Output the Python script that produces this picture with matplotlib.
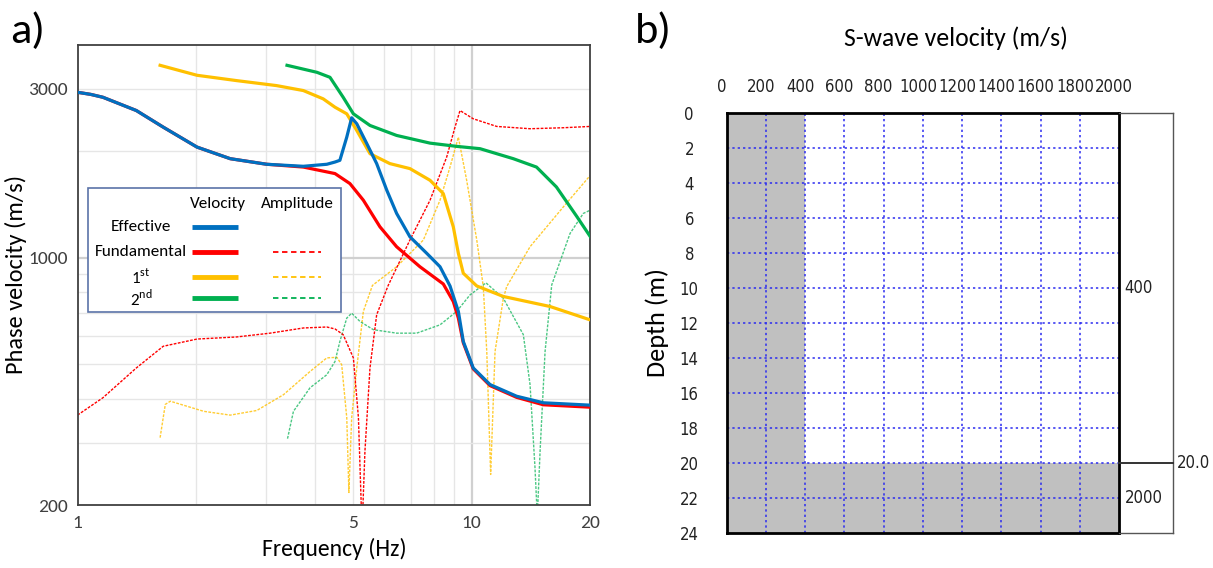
import matplotlib
matplotlib.use("Agg")
import matplotlib.pyplot as plt
import matplotlib.transforms as mtransforms
from matplotlib import font_manager
from matplotlib.font_manager import FontProperties

# ---- data: panel a (frequency in Hz, phase velocity in m/s) ----
freq_eff = [1.0, 1.08, 1.16, 1.41, 1.65, 2.01, 2.44, 3.02, 3.74, 4.29, 4.50, 4.63, 4.82,
            4.96, 5.11, 5.42, 5.74, 6.09, 6.45, 6.97, 7.69, 8.31, 8.81, 9.25, 9.52,
            10.09, 11.13, 13.0, 15.2, 20.0]
vel_eff = [2935, 2895, 2841, 2606, 2339, 2054, 1905, 1837, 1813, 1837, 1864, 1885, 2192,
           2486, 2391, 2100, 1845, 1551, 1334, 1146, 1029, 943, 832, 705, 580,
           488, 438, 406, 389, 383]

freq_fund = [1.0, 1.08, 1.16, 1.41, 1.65, 2.01, 2.44, 3.02, 3.74, 4.50, 4.91, 5.31, 5.85,
             6.45, 7.39, 8.47, 8.98, 9.25, 9.52, 10.09, 11.13, 13.0, 15.2, 20.0]
vel_fund = [2935, 2895, 2841, 2606, 2339, 2054, 1905, 1837, 1804, 1729, 1620, 1454, 1223,
            1074, 943, 843, 752, 675, 575, 485, 435, 403, 384, 378]

freq_1st = [1.62, 2.01, 2.53, 3.20, 3.74, 4.20, 4.50, 4.82, 5.11, 5.52, 6.20, 6.97,
            7.84, 8.47, 8.98, 9.25, 9.52, 10.3, 12.03, 15.8, 20.0]
vel_1st = [3498, 3278, 3167, 3065, 2968, 2812, 2663, 2551, 2289, 1968, 1845, 1786,
           1655, 1518, 1223, 1029, 904, 832, 777, 728, 667]

freq_2nd = [3.40, 4.05, 4.37, 4.72, 5.01, 5.52, 6.45, 7.84, 9.16, 10.5, 12.75, 14.6,
            16.4, 18.5, 20.0]
vel_2nd = [3498, 3342, 3235, 2841, 2551, 2365, 2216, 2108, 2064, 2033, 1905, 1804,
           1585, 1305, 1146]

amp_freq_fund = [1.0, 1.16, 1.41, 1.65, 2.01, 2.53, 3.08, 3.74, 4.29, 4.50, 4.72,
                 5.01, 5.16, 5.27, 5.36, 5.52, 5.74, 6.14, 6.97, 7.84, 8.64, 9.07,
                 9.34, 10.09, 11.57, 14.06, 17.08, 20.0]
amp_fund = [359, 402, 488, 562, 589, 597, 612, 633, 637, 629, 606,
            521, 353, 170, 284, 488, 690, 835, 1122, 1454, 1925, 2339,
            2606, 2470, 2350, 2315, 2330, 2350]

amp_freq_1st = [1.62, 1.67, 1.72, 2.09, 2.44, 2.85, 3.33, 3.89, 4.29, 4.55, 4.68,
                4.82, 4.88, 4.96, 5.11, 5.31, 5.6, 6.45, 7.54, 8.31, 8.81, 9.25,
                9.71, 10.3, 10.70, 10.92, 11.17, 11.46, 12.03, 12.27, 14.06, 17.08, 20.0]
amp_1st = [310, 385, 393, 368, 359, 370, 410, 477, 521, 523, 498,
           353, 217, 353, 488, 705, 835, 943, 1122, 1454, 1804, 2192,
           1655, 1122, 829, 543, 244, 543, 768, 829, 1074, 1392, 1710]

amp_freq_2nd = [3.41, 3.53, 3.89, 4.29, 4.50, 4.63, 4.82, 4.96, 5.21, 5.63, 6.45,
                7.25, 8.31, 9.16, 9.90, 10.87, 12.03, 13.52, 14.06, 14.47, 14.67,
                14.91, 15.35, 15.96, 17.76, 19.19, 20.0]
amp_2nd = [308, 368, 429, 467, 509, 580, 675, 697, 660, 626, 612,
           612, 646, 705, 785, 849, 768, 606, 438, 256, 185,
           284, 543, 838, 1171, 1334, 1363]

freq_ticks = [1, 5, 10, 20]
vel_ticks = [200, 1000, 3000]
freq_grid = [2, 3, 4, 5, 6, 7, 8, 9]
vel_grid = [300, 400, 500, 600, 700, 800, 900, 2000, 3000]

# ---- data: panel b (layered model) ----
layer_top = [0, 20]
layer_bottom = [20, 24]
layer_vs = [400, 2000]
vs_ticks = list(range(0, 2001, 200))
depth_ticks = list(range(0, 25, 2))

# ---- fonts ----
installed = {f.name for f in font_manager.fontManager.ttflist}
label_font = "Carlito" if "Carlito" in installed else "Lato"


def narrow_font_file():
    fonts = font_manager.fontManager.ttflist
    regular = (400, "normal", "regular", "book")
    for f in fonts:
        if f.name == "Liberation Sans Narrow" and f.style == "normal" and f.weight in regular:
            return f.fname
    for f in fonts:
        if f.name == "DejaVu Sans" and f.stretch == "condensed" and f.style == "normal" \
                and f.weight in regular:
            return f.fname
    return None


nf = narrow_font_file()
if nf:
    narrow = FontProperties(fname=nf, size=12)
else:
    narrow = FontProperties(family="Liberation Sans", size=10.5)

plt.rcParams["font.family"] = [label_font, "DejaVu Sans"]
plt.rcParams["mathtext.fontset"] = "custom"
plt.rcParams["mathtext.rm"] = label_font

BLUE, RED, YELLOW, GREEN = "#0070C0", "#FF0000", "#FFC000", "#00B050"

fig = plt.figure(figsize=(12.13, 5.68), dpi=100)

# ================= panel a =================
ax = fig.add_axes([0.0639, 0.1109, 0.4228, 0.8104])
ax.set_xscale("log")
ax.set_yscale("log")
ax.set_xlim(1, 20)
ax.set_ylim(200, 4000)

for f in freq_grid:
    ax.axvline(f, color="#e6e6e6", lw=1.0, zorder=0)
ax.axvline(10, color="#d0d0d0", lw=1.6, zorder=0)
for v in vel_grid:
    ax.axhline(v, color="#e6e6e6", lw=1.0, zorder=0)
ax.axhline(1000, color="#d0d0d0", lw=1.6, zorder=0)

dot = (0, (2, 1))
ax.plot(amp_freq_1st, amp_1st, color=YELLOW, lw=1.0, ls=dot, alpha=0.8, zorder=2)
ax.plot(amp_freq_2nd, amp_2nd, color=GREEN, lw=1.0, ls=dot, alpha=0.7, zorder=2)
ax.plot(amp_freq_fund, amp_fund, color=RED, lw=1.0, ls=dot, zorder=2)

ax.plot(freq_1st, vel_1st, color=YELLOW, lw=2.3, zorder=3)
ax.plot(freq_2nd, vel_2nd, color=GREEN, lw=2.3, zorder=3)
ax.plot(freq_fund, vel_fund, color=RED, lw=2.3, zorder=4)
ax.plot(freq_eff, vel_eff, color=BLUE, lw=2.3, zorder=5)

ax.xaxis.set_minor_locator(matplotlib.ticker.NullLocator())
ax.yaxis.set_minor_locator(matplotlib.ticker.NullLocator())
ax.set_xticks(freq_ticks)
ax.set_xticklabels([str(t) for t in freq_ticks])
ax.set_yticks(vel_ticks)
ax.set_yticklabels([str(t) for t in vel_ticks])
ax.tick_params(length=0, labelsize=14, labelcolor="#404040", pad=7)
for s in ax.spines.values():
    s.set_color("#404040")
    s.set_linewidth(1.3)
ax.set_xlabel("Frequency (Hz)", fontsize=17, labelpad=5)
ax.set_ylabel("Phase velocity (m/s)", fontsize=17.5, labelpad=1)

# legend box drawn as a small table
ax.add_patch(plt.Rectangle((0.0205, 0.4193), 0.4932, 0.2694, transform=ax.transAxes,
                           facecolor="white", edgecolor="#5b73a8", lw=1.2, zorder=6))
lg = dict(transform=ax.transAxes, fontsize=12.3, ha="center", va="center", zorder=7)
ax.text(0.2739, 0.655, "Velocity", **lg)
ax.text(0.428, 0.655, "Amplitude", **lg)
rows = [("Effective", BLUE, False, 0.6046),
        ("Fundamental", RED, True, 0.5503),
        (r"1$^{\mathrm{st}}$", YELLOW, True, 0.496),
        (r"2$^{\mathrm{nd}}$", GREEN, True, 0.449)]
for name, col, has_amp, yy in rows:
    ax.text(0.1238, yy, name, **lg)
    ax.plot([0.2227, 0.3135], [yy, yy], color=col, lw=3.5, transform=ax.transAxes,
            zorder=7, solid_capstyle="butt")
    if has_amp:
        ax.plot([0.3818, 0.4742], [yy, yy], color=col, lw=1.3, ls=(0, (3, 2)),
                transform=ax.transAxes, zorder=7)

fig.text(0.008, 0.925, "a)", fontsize=32, va="baseline", ha="left")

# ================= panel b =================
bx = fig.add_axes([0.5991, 0.0621, 0.3234, 0.7395])
bx.set_xlim(0, 2000)
bx.set_ylim(24, 0)
for top, bot, vs in zip(layer_top, layer_bottom, layer_vs):
    bx.fill_betweenx([top, bot], 0, vs, color="#c0c0c0", lw=0, zorder=1)
for v in vs_ticks[1:-1]:
    bx.axvline(v, color="#2b2bf0", lw=1.1, ls=(0, (1.5, 2)), zorder=2)
for d in depth_ticks[1:-1]:
    bx.axhline(d, color="#2b2bf0", lw=1.1, ls=(0, (1.5, 2)), zorder=2)

bx.xaxis.tick_top()
bx.xaxis.set_label_position("top")
bx.set_xticks(vs_ticks)
bx.set_yticks(depth_ticks)
bx.tick_params(length=0, labelcolor="#222222")
bx.tick_params(axis="x", pad=12)
bx.tick_params(axis="y", pad=27)
for lab in bx.get_xticklabels() + bx.get_yticklabels():
    lab.set_fontproperties(narrow)
for lab in bx.get_yticklabels():
    lab.set_horizontalalignment("center")
shift = mtransforms.ScaledTranslation(-5 / 100, 0, fig.dpi_scale_trans)
for lab in bx.get_xticklabels():
    lab.set_transform(lab.get_transform() + shift)
for s in bx.spines.values():
    s.set_color("black")
    s.set_linewidth(2)

bx.set_xlabel("S-wave velocity (m/s)", fontsize=18.5)
bx.xaxis.set_label_coords(0.585, 1.178)
bx.xaxis.label.set_verticalalignment("center")
bx.set_ylabel("Depth (m)", fontsize=19, labelpad=8)

# side table: layer velocities and interface depth
box_right = 2275
for x0, x1, y0, y1 in [(2000, box_right, 0, 0), (2000, box_right, 24, 24),
                       (box_right, box_right, 0, 24)]:
    bx.plot([x0, x1], [y0, y1], color="#555555", lw=1.0, clip_on=False, zorder=3)
bx.plot([2000, box_right], [layer_bottom[0], layer_bottom[0]], color="#333333",
        lw=1.4, clip_on=False, zorder=3)
for top, bot, vs in zip(layer_top, layer_bottom, layer_vs):
    bx.annotate(str(vs), (2000, (top + bot) / 2), xytext=(4, 0), textcoords="offset points",
                ha="left", va="center", fontproperties=narrow, color="#222222",
                annotation_clip=False)
bx.annotate("%.1f" % layer_bottom[0], (box_right, layer_bottom[0]), xytext=(3, 0),
            textcoords="offset points", ha="left", va="center", fontproperties=narrow,
            color="#222222", annotation_clip=False)

fig.text(0.5235, 0.925, "b)", fontsize=32, va="baseline", ha="left")

plt.savefig("out.png", dpi=100)
